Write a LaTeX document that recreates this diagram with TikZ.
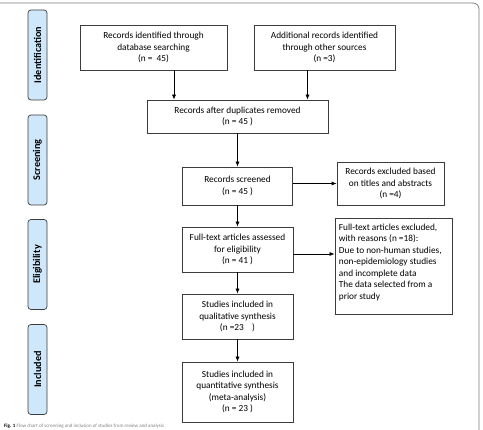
\documentclass[tikz,border=0pt]{standalone}
\usepackage{fontspec}
\setmainfont{Carlito}
\usetikzlibrary{arrows.meta, calc}
\definecolor{stageblue}{RGB}{207, 231, 250}
\definecolor{framegray}{RGB}{125, 125, 125}
\definecolor{linegray}{RGB}{60, 60, 60}

\begin{document}
\begin{tikzpicture}[x=1pt, y=-1pt,
  box/.style={draw=linegray, line width=0.7pt, fill=white, align=center, inner sep=2pt, font=\fontsize{9.3}{11.5}\selectfont},
  stage/.style={draw=linegray, line width=0.7pt, fill=stageblue, rounded corners=3pt, rotate=90, minimum width=90pt, minimum height=19pt, inner sep=0pt, font=\fontsize{10.2}{11}\selectfont\bfseries},
  arr/.style={-{Latex[length=5pt, width=4pt]}, line width=0.7pt, black}]
  \useasboundingbox (0,0) rectangle (483,430);

  % Outer frame
  \draw[framegray, line width=0.8pt, rounded corners=6pt] (-20,3) rectangle (479,470);

  % Stage labels
  \node[stage] (ident) at (37.5,55) {Identification};
  \node[stage] (screen) at (37.5,160) {Screening};
  \node[stage] (elig) at (37.5,264.5) {Eligibility};
  \node[stage] (incl) at (37.5,369.5) {Included};

  % Identification boxes
  \node[box, minimum width=147pt, minimum height=45pt] (db) at (153.5,47.5) {
    Records identified through\\
    database searching\\
    (n =\ \ 45)
  };
  \node[box, minimum width=141pt, minimum height=45pt] (other) at (324.5,47.5) {
    Additional records identified\\
    through other sources\\
    (n =3)
  };

  % Screening boxes
  \node[box, minimum width=181pt, minimum height=33pt] (dup) at (237.5,116.5) {
    Records after duplicates removed\\
    (n = 45 )
  };
  \node[box, minimum width=110pt, minimum height=38pt] (screened) at (237.5,186) {
    Records screened\\
    (n = 45 )
  };
  \node[box, minimum width=107pt, minimum height=43pt] (excl1) at (390.5,183.5) {
    Records excluded based\\
    on titles and abstracts\\
    (n =4)
  };

  % Eligibility boxes
  \node[box, minimum width=111pt, minimum height=45pt] (full) at (237.5,249.5) {
    Full-text articles assessed\\
    for eligibility\\
    (n = 41 )
  };
  \node[box, inner xsep=4pt, inner ysep=6pt] (excl2) at (393.5,266) {\parbox[c][84pt][t]{107pt}{\raggedright
    Full-text articles excluded,\\
    with reasons (n =18):\\
    Due to non-human studies,\\
    non-epidemiology studies\\
    and incomplete data\\
    The data selected from a\\
    prior study}
  };

  % Included boxes
  \node[box, minimum width=111pt, minimum height=45pt] (qual) at (237.5,316.5) {
    Studies included in\\
    qualitative synthesis\\
    (n =23\ \ \ \ )
  };
  \node[box, minimum width=111pt, minimum height=60pt] (quant) at (237.5,392) {
    Studies included in\\
    quantitative synthesis\\
    (meta-analysis)\\
    (n = 23 )
  };

  % Arrows
  \draw[arr] ([xshift=20.5pt]db.south) -- ([xshift=20.5pt]db.south |- dup.north);
  \draw[arr] ([xshift=-17pt]other.south) -- ([xshift=-17pt]other.south |- dup.north);
  \draw[arr] (dup.south) -- (dup.south |- screened.north);
  \draw[arr] (screened.east |- excl1.west) -- (excl1.west);
  \draw[arr] (screened.south) -- (screened.south |- full.north);
  \draw[arr] ([yshift=-4.5pt]full.east) -- ([yshift=-4.5pt]full.east -| excl2.west);
  \draw[arr] (full.south) -- (full.south |- qual.north);
  \draw[arr] (qual.south) -- (qual.south |- quant.north);

  % Caption
  \node[anchor=west, inner sep=0pt, text=gray, font=\fontsize{5}{5.5}\selectfont] (caption) at (4,426.5) {\textbf{\color{black}Fig. 1} Flow chart of screening and inclusion of studies from review and analysis};
\end{tikzpicture}
\end{document}
